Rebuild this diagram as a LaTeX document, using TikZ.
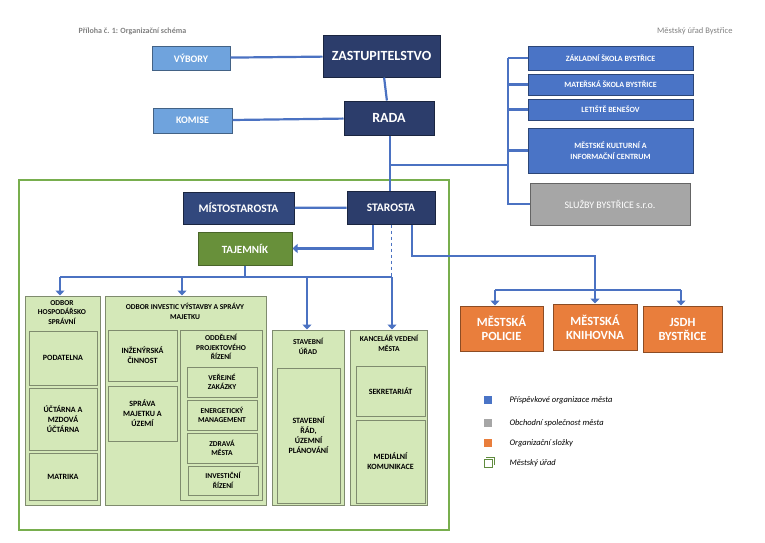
\documentclass[tikz,border=0pt]{standalone}
\usepackage{fontspec}
\setmainfont{Carlito}
\usetikzlibrary{positioning,arrows.meta}
\definecolor{navy}{HTML}{2C3D6B}
\definecolor{lblue}{HTML}{6FA3DD}
\definecolor{mblue}{HTML}{4A74C6}
\definecolor{lgray}{HTML}{A6A6A6}
\definecolor{orng}{HTML}{E97E3C}
\definecolor{dgreen}{HTML}{68903A}
\definecolor{pgreen}{HTML}{D4E8B8}
\definecolor{fgreen}{HTML}{78AE4E}
\definecolor{wire}{HTML}{4B72C2}
\tikzset{
  box/.style={draw=#1!60!black, line width=1pt, inner sep=1pt, align=center},
  top/.style={box=navy, fill=navy, text=white, font=\bfseries\fontsize{14}{15}\selectfont},
  side/.style={box=lblue, fill=lblue, text=white, font=\bfseries\fontsize{10}{11}\selectfont},
  org/.style={box=mblue, fill=mblue, text=white, font=\bfseries\fontsize{8}{11}\selectfont},
  comp/.style={box=lgray, fill=lgray, text=white, font=\fontsize{10}{11}\selectfont},
  unit/.style={box=orng, fill=orng, text=white, font=\bfseries\fontsize{12.5}{14}\selectfont},
  dept/.style={box=pgreen, fill=pgreen, text=black, font=\bfseries\fontsize{8}{10}\selectfont, align=center},
  title/.style={inner sep=0pt, align=center, anchor=north, font=\bfseries\fontsize{7.5}{9.5}\selectfont},
  wire/.style={draw=wire, line width=2.2pt},
  arr/.style={wire, -{Triangle[length=5pt,width=9pt]}},
}
\newcommand{\rect}[5]{\node[#5, minimum width=#3-#1, minimum height=#4-#2] at ({(#1+#3)/2},{(#2+#4)/2})}
\begin{document}
\begin{tikzpicture}[x=1pt,y=-1pt]
\useasboundingbox (0,0) rectangle (765,542);
% header
\node[anchor=west, text=gray, font=\bfseries\fontsize{8}{9}\selectfont] (hdl) at (75,31) {Příloha č. 1: Organizační schéma};
\node[anchor=east, text=gray, font=\fontsize{8.5}{9}\selectfont] (hdr) at (736,31) {Městský úřad Bystřice};

% office frame
\draw[fgreen, line width=2pt] (19,180) rectangle (449,530);

% top level
\rect{323}{35}{440}{77}{top} (zast) {ZASTUPITELSTVO};
\rect{344}{101}{434}{135}{top} (rada) {RADA};
\rect{152}{46}{230}{70}{side} (vyb) {VÝBORY};
\rect{153}{108}{232}{133}{side} (kom) {KOMISE};
\rect{347}{191}{435}{224}{top,font=\bfseries\fontsize{11.5}{12}\selectfont} (star) {STAROSTA};
\rect{183}{192}{294}{224}{top,fill=navy!80!mblue,font=\bfseries\fontsize{11.5}{12}\selectfont} (mist) {MÍSTOSTAROSTA};
\rect{198}{232}{292}{265}{top,fill=dgreen,draw=dgreen!70!black,font=\bfseries\fontsize{11}{12}\selectfont} (taj) {TAJEMNÍK};

% organisations of the town
\rect{528}{46}{693}{70}{org} (zs) {ZÁKLADNÍ ŠKOLA BYSTŘICE};
\rect{528}{74}{693}{95}{org} (ms) {MATEŘSKÁ ŠKOLA BYSTŘICE};
\rect{528}{99}{693}{120}{org} (let) {LETIŠTĚ BENEŠOV};
\rect{528}{128}{693}{173}{org} (mkic) {MĚSTSKÉ KULTURNÍ A\\INFORMAČNÍ CENTRUM};
\rect{530}{183}{690}{225}{comp} (sluz) {SLUŽBY BYSTŘICE s.r.o.};

% orange units
\rect{460}{306}{543}{351}{unit} (pol) {MĚSTSKÁ\\POLICIE};
\rect{553}{304}{637}{350}{unit} (kniha) {MĚSTSKÁ\\KNIHOVNA};
\rect{643}{306}{722}{352}{unit} (jsdh) {JSDH\\BYSTŘICE};

% departments
\rect{25}{296}{100}{505}{dept} (hosp) {};
\node[title] (hospt) at (62,300) {ODBOR\\HOSPODÁŘSKO\\SPRÁVNÍ};
\rect{29}{331}{97}{385}{dept} (pod) {PODATELNA};
\rect{29}{388}{97}{450}{dept} (uct) {ÚČTÁRNA A\\MZDOVÁ\\ÚČTÁRNA};
\rect{29}{453}{97}{500}{dept} (mat) {MATRIKA};

\rect{105}{296}{266}{505}{dept} (inv) {};
\node[title] (invt) at (185,303) {ODBOR INVESTIC VÝSTAVBY A SPRÁVY\\MAJETKU};
\rect{108}{330}{177}{381}{dept} (inz) {INŽENÝRSKÁ\\ČINNOST};
\rect{108}{386}{177}{441}{dept} (spr) {SPRÁVA\\MAJETKU A\\ÚZEMÍ};
\rect{180}{330}{262}{500}{dept} (odd) {};
\node[title] (oddt) at (221,334) {ODDĚLENÍ\\PROJEKTOVÉHO\\ŘÍZENÍ};
\rect{187}{367}{257}{397}{dept,font=\bfseries\fontsize{7.5}{9.5}\selectfont} (ver) {VEŘEJNÉ\\ZAKÁZKY};
\rect{187}{400}{257}{430}{dept,font=\bfseries\fontsize{7.5}{9.5}\selectfont} (ener) {ENERGETICKÝ\\MANAGEMENT};
\rect{187}{433}{257}{463}{dept,font=\bfseries\fontsize{7.5}{9.5}\selectfont} (zdr) {ZDRAVÁ\\MĚSTA};
\rect{188}{466}{258}{495}{dept,font=\bfseries\fontsize{7.5}{9.5}\selectfont} (invr) {INVESTIČNÍ\\ŘÍZENÍ};

\rect{272}{330}{344}{505}{dept} (stav) {};
\node[title] (stavt) at (308,338) {STAVEBNÍ\\ÚŘAD};
\rect{277}{368}{340}{503}{dept} (stavr) {STAVEBNÍ\\ŘÁD,\\ÚZEMNÍ\\PLÁNOVÁNÍ};

\rect{350}{330}{427}{505}{dept} (kanc) {};
\node[title] (kanct) at (389,335) {KANCELÁŘ VEDENÍ\\MĚSTA};
\rect{356}{366}{425}{416}{dept} (sekr) {SEKRETARIÁT};
\rect{356}{420}{425}{503}{dept} (med) {MEDIÁLNÍ\\KOMUNIKACE};

% connectors
\coordinate (br) at (508,165);
\draw[wire] (vyb) -- (zast);
\draw[wire] (kom) -- (rada);
\draw[wire] (zast) -- (rada);
\draw[wire] (rada.south -| 390,0) -- (star.north -| 390,0);
\draw[wire] (390,165) -- (br);
\draw[wire] (508,58) -- (508,205);
\foreach \o in {zs,ms,let,mkic,sluz} \draw[wire] (\o.west -| 508,0) -- (\o.west);
\draw[wire] (mist) -- (star);
\draw[arr] (star.south -| 373,0) |- (taj.east);
\draw[draw=wire, dashed, line width=0.5pt] (star.south -| 391,0) -- (391,277);
\draw[wire] (taj.south -| 245,0) -- (245,277);
\draw[wire] (60,277) -- (392,277);
\draw[arr] (60,277) -- (hosp.north -| 60,0);
\draw[arr] (182,277) -- (inv.north -| 182,0);
\draw[arr] (307,277) -- (stav.north -| 307,0);
\draw[arr] (392,277) -- (kanc.north -| 392,0);
\draw[wire] (star.south -| 412,0) |- (595,256) -- (595,290);
\draw[wire] (495,290) -- (681,290);
\draw[arr] (495,290) -- (pol.north -| 495,0);
\draw[arr] (595,290) -- (kniha.north);
\draw[arr] (681,290) -- (jsdh.north -| 681,0);

% legend
\foreach \y/\c/\t in {400/mblue/Příspěvkové organizace města,423/lgray/Obchodní společnost města,443/orng/Organizační složky}{
  \fill[\c] (484,\y-4) rectangle (492,\y+4);
  \node[anchor=west, font=\itshape\fontsize{8.5}{9}\selectfont] at (506,\y) {\t};
}
\draw[fgreen!80!black, line width=1pt] (484,459) rectangle (492,467);
\draw[fgreen!80!black, line width=0.6pt] (486,457) -- (494,457) -- (494,465);
\node[anchor=west, font=\itshape\fontsize{8.5}{9}\selectfont] (leg4) at (506,463) {Městský úřad};
\end{tikzpicture}
\end{document}
